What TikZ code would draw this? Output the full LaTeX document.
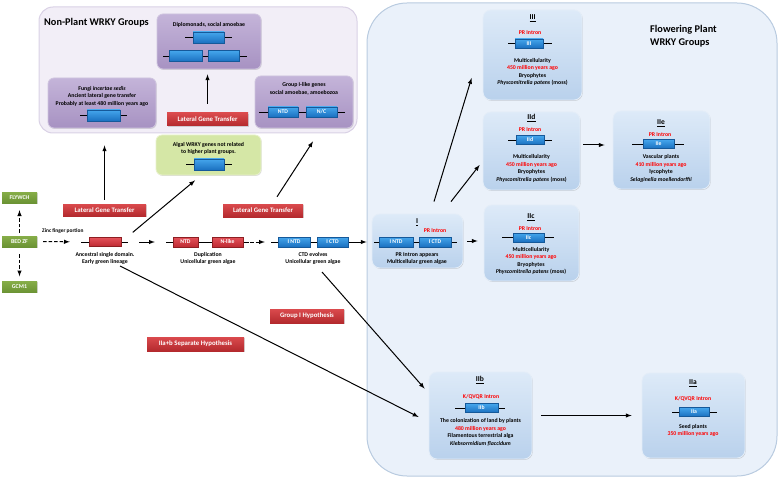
\documentclass[tikz,border=0pt]{standalone}
\usepackage{fontspec}
\setmainfont{Carlito}
\usetikzlibrary{shadows}
\definecolor{cNpOut}{HTML}{F2EEF7}
\definecolor{cNpEdge}{HTML}{D9D1E5}
\definecolor{cFlOut}{HTML}{EAF1FA}
\definecolor{cFlEdge}{HTML}{B9CBE0}
\definecolor{cPurT}{HTML}{C4B4D9}
\definecolor{cPurB}{HTML}{A792C2}
\definecolor{cPurE}{HTML}{CFC4DF}
\definecolor{cBluT}{HTML}{DDEAF8}
\definecolor{cBluB}{HTML}{B9D1EC}
\definecolor{cBluE}{HTML}{E3EDF8}
\definecolor{cAlg}{HTML}{D5E7A6}
\definecolor{cAlgE}{HTML}{E8F1CC}
\definecolor{cRedT}{HTML}{DA4A4D}
\definecolor{cRedB}{HTML}{B42A2E}
\definecolor{cGrnT}{HTML}{86AD48}
\definecolor{cGrnB}{HTML}{6B9334}
\definecolor{cBarT}{HTML}{45A6EC}
\definecolor{cBarB}{HTML}{1A70C0}
\definecolor{cBarE}{HTML}{15599A}
\definecolor{cRbarT}{HTML}{E4525A}
\definecolor{cRbarB}{HTML}{BE2A32}
\definecolor{cRbarE}{HTML}{8E1E22}
\newcommand\rd[1]{\textcolor{red}{#1}}
\tikzset{
  >=latex,
  shd/.style={drop shadow={opacity=.3,shadow xshift=.7pt,shadow yshift=-.9pt}},
  npouter/.style={rectangle,rounded corners=14pt,fill=cNpOut,draw=cNpEdge,line width=1pt,inner sep=0pt},
  flouter/.style={rectangle,rounded corners=40pt,fill=cFlOut,draw=cFlEdge,line width=1pt,inner sep=0pt},
  npbox/.style={rectangle,rounded corners=6pt,inner sep=0pt,top color=cPurT,bottom color=cPurB,draw=cPurE,line width=.8pt,shd},
  flbox/.style={rectangle,rounded corners=8pt,inner sep=0pt,top color=cBluT,bottom color=cBluB,draw=cBluE,line width=.8pt,shd},
  algbox/.style={rectangle,rounded corners=6pt,inner sep=0pt,fill=cAlg,draw=cAlgE,line width=.8pt,shd},
  tag/.style={rectangle,inner sep=0pt,top color=cRedT,bottom color=cRedB,text=white,font=\fontsize{6.8}{7}\selectfont\bfseries,shd},
  gtag/.style={rectangle,inner sep=0pt,top color=cGrnT,bottom color=cGrnB,text=white,minimum width=35,minimum height=11,font=\fontsize{5.9}{6}\selectfont\bfseries,shd},
  bbar/.style={rectangle,inner sep=0pt,minimum height=9,top color=cBarT,bottom color=cBarB,draw=cBarE,line width=.4pt,text=white,font=\fontsize{5.7}{6}\selectfont\bfseries},
  rbar/.style={bbar,top color=cRbarT,bottom color=cRbarB,draw=cRbarE},
  gline/.style={line width=.8pt},
  arr/.style={->,line width=1pt},
  darr/.style={->,line width=1pt,dash pattern=on 3.5pt off 2pt},
  hd/.style={inner sep=0pt,font=\fontsize{7.5}{8}\selectfont\bfseries},
  ttl/.style={inner sep=0pt,anchor=west,align=left,font=\fontsize{10.3}{13}\selectfont\bfseries},
  txt/.style={inner sep=0pt,align=center}
}
\begin{document}
\begin{tikzpicture}[x=1pt,y=-1pt,font=\fontsize{5.8}{7.5}\selectfont\bfseries]
\useasboundingbox (0,0) rectangle (779,484);

% non-plant groups
\node[npouter,minimum width=318,minimum height=126] (nonplant) at (198,70) {};
\node[ttl] (nptitle) at (44,23) {Non-Plant WRKY Groups};
\node[npbox,minimum width=104,minimum height=55] (diplo) at (209,41.5) {};
\node[txt] (diplotxt) at (209,25) {Diplomonads, social amoebae};
\draw[gline] (185,37.5) -- (232,37.5);
\node[bbar,minimum width=31,minimum height=11] (dbar) at (208.5,37.5) {};
\draw[gline] (163,56) -- (247,56);
\node[bbar,minimum width=33,minimum height=11] (dbarA) at (185.5,56) {};
\node[bbar,minimum width=31,minimum height=11] (dbarB) at (223.5,56) {};
\node[npbox,minimum width=108,minimum height=50] (fungi) at (102,103) {};
\node[txt] (fungitxt) at (102,96) {Fungi \textit{incertae sedis}\\Ancient lateral gene transfer\\Probably at least 480 million years ago};
\draw[gline] (80,115.5) -- (127,115.5);
\node[bbar,minimum width=33,minimum height=11] (fbar) at (103.5,115.5) {};
\node[npbox,minimum width=98,minimum height=52] (gIlike) at (304,102) {};
\node[txt] (gIliketxt) at (304,89) {Group I-like genes\\social amoebae, amoebozoa};
\draw[gline] (259,112) -- (345,112);
\node[bbar,minimum width=30,minimum height=10] (gntd) at (283,112) {NTD};
\node[bbar,minimum width=31,minimum height=10] (gnc) at (321.5,112) {N/C};
\node[algbox,minimum width=105,minimum height=40] (algal) at (208.5,155) {};
\node[txt] (algaltxt) at (208.5,148.5) {Algal WRKY genes not related\\to higher plant groups.};
\draw[gline] (186,164.5) -- (232,164.5);
\node[bbar,minimum width=30,minimum height=11] (abar) at (209,164.5) {};

% flowering plant groups
\node[flouter,minimum width=410,minimum height=473] (flower) at (572,239.5) {};
\node[ttl] (fltitle) at (650,36.5) {Flowering Plant\\WRKY Groups};

\node[flbox,minimum width=99,minimum height=90] (gIII) at (532.5,55) {};
\node[hd] (lIII) at (532.5,18) {\underline{III}};
\node[txt] (pIII) at (530,33) {\rd{PR Intron}};
\draw[gline] (508,43.5) -- (552,43.5);
\node[bbar,minimum width=28] (bIII) at (529,43.5) {III};
\node[txt] (tIII) at (532.5,72) {Multicellularity\\\rd{450 million years ago}\\Bryophytes\\\textit{Physcomitrella patens} (moss)};

\node[flbox,minimum width=97,minimum height=78] (gIId) at (531.5,151) {};
\node[hd] (lIId) at (531.5,118) {\underline{IId}};
\node[txt] (pIId) at (530,130) {\rd{PR Intron}};
\draw[gline] (508,140) -- (552,140);
\node[bbar,minimum width=28] (bIId) at (530,140) {IId};
\node[txt] (tIId) at (531.5,168.5) {Multicellularity\\\rd{450 million years ago}\\Bryophytes\\\textit{Physcomitrella patens} (moss)};

\node[flbox,minimum width=97,minimum height=78] (gIIe) at (661.5,150) {};
\node[hd] (lIIe) at (661,123) {\underline{IIe}};
\node[txt] (pIIe) at (660,135) {\rd{PR Intron}};
\draw[gline] (632,144) -- (684,144);
\node[bbar,minimum width=31] (bIIe) at (658.5,144) {IIe};
\node[txt] (tIIe) at (661,168.5) {Vascular plants\\\rd{410 million years ago}\\lycophyte\\\textit{Selaginella moellendorffii}};

\node[flbox,minimum width=95,minimum height=76] (gIIc) at (531.5,243) {};
\node[hd] (lIIc) at (531,217) {\underline{IIc}};
\node[txt] (pIIc) at (530,229) {\rd{PR Intron}};
\draw[gline] (502,237.5) -- (554,237.5);
\node[bbar,minimum width=31] (bIIc) at (528.5,237.5) {IIc};
\node[txt] (tIIc) at (531,261) {Multicellularity\\\rd{450 million years ago}\\Bryophytes\\\textit{Physcomitrella patens} (moss)};

\node[flbox,minimum width=91,minimum height=54] (gI) at (417.5,241) {};
\node[hd] (lI) at (417,222) {\underline{I}};
\node[txt] (pI) at (435,231) {\rd{PR Intron}};
\draw[gline] (374,242) -- (457,242);
\node[bbar,minimum width=34,minimum height=10] (bintd) at (396,242) {I NTD};
\node[bbar,minimum width=32,minimum height=10] (bictd) at (435,242) {I CTD};
\node[txt] (tI) at (417,258.5) {PR Intron appears\\Multicellular green algae};

\node[flbox,minimum width=103,minimum height=87] (gIIb) at (480.5,415.5) {};
\node[hd] (lIIb) at (480,380) {\underline{IIb}};
\node[txt] (pIIb) at (481,397) {\rd{K/QVQR Intron}};
\draw[gline] (455,408) -- (505,408);
\node[bbar,minimum width=33] (bIIb) at (481.5,408) {IIb};
\node[txt] (tIIb) at (480.5,432.5) {The colonization of land by plants\\\rd{480 million years ago}\\Filamentous terrestrial alga\\\textit{Klebsormidium flaccidum}};

\node[flbox,minimum width=103,minimum height=85] (gIIa) at (693.5,415.5) {};
\node[hd] (lIIa) at (693,383) {\underline{IIa}};
\node[txt] (pIIa) at (693,399) {\rd{K/QVQR Intron}};
\draw[gline] (672,412) -- (717,412);
\node[bbar,minimum width=30] (bIIa) at (694,412) {IIa};
\node[txt] (tIIa) at (693,430.5) {Seed plants\\\rd{350 million years ago}};

% early lineage
\node[gtag] (flywch) at (19.5,197.5) {FLYWCH};
\node[gtag] (bedzf) at (19.5,241.5) {BED ZF};
\node[gtag] (gcm) at (19.5,287) {GCM1};
\node[inner sep=0pt,anchor=west,font=\fontsize{5.4}{6}\selectfont\bfseries] (zinc) at (42,231) {Zinc finger portion};
\draw[gline] (81,242) -- (128,242);
\node[rbar,minimum width=32] (anc) at (105,242) {};
\node[txt] (anctxt) at (105,258.5) {Ancestral single domain.\\Early green lineage};
\draw[gline] (166,242) -- (249,242);
\node[rbar,minimum width=25,minimum height=10] (ntd) at (185.5,242) {NTD};
\node[rbar,minimum width=31,minimum height=10] (nlike) at (227.5,242) {N-like};
\node[txt] (duptxt) at (208,258.5) {Duplication\\Unicellular green algae};
\draw[gline] (271,242) -- (358,242);
\node[bbar,minimum width=32,minimum height=10] (intd) at (294,242) {I NTD};
\node[bbar,minimum width=31,minimum height=10] (ictd) at (332.5,242) {I CTD};
\node[txt] (ctdtxt) at (313,258.5) {CTD evolves\\Unicellular green algae};

% hypothesis labels
\node[tag,minimum width=83,minimum height=12] (ltgL) at (104.5,210) {Lateral Gene Transfer};
\node[tag,minimum width=81,minimum height=13] (ltgM) at (207.5,119.5) {Lateral Gene Transfer};
\node[tag,minimum width=80,minimum height=13] (ltgR) at (263,210.5) {Lateral Gene Transfer};
\node[tag,minimum width=74,minimum height=14] (grpI) at (307,316) {Group I Hypothesis};
\node[tag,minimum width=97,minimum height=14] (sephyp) at (195.5,344) {IIa+b Separate Hypothesis};

% arrows
\draw[darr,shorten <=3pt,shorten >=7pt] (bedzf.north) -- (flywch.south);
\draw[darr,shorten <=7pt,shorten >=5pt] (bedzf.south) -- (gcm.north);
\draw[darr,shorten <=6pt,shorten >=19pt] (bedzf.east) -- (anc.west);
\draw[arr,shorten <=18pt,shorten >=18pt] (anc.east) -- (ntd.west);
\draw[darr,shorten <=7pt,shorten >=13pt] (nlike.east) -- (intd.west);
\draw[darr,shorten <=10pt,shorten >=5pt] (ictd.east) -- (ictd.east -| gI.west);
\draw[arr,shorten <=4pt,shorten >=17pt] (ltgL.north) -- (ltgL.north |- fungi.south);
\draw[arr,shorten <=9pt,shorten >=5pt] (ltgM.north) -- (ltgM.north |- diplo.south);
\draw[arr,shorten <=15pt] (anc.east) -- ([xshift=-13.5pt,yshift=-5pt]algal.south);
\draw[arr] ([xshift=14pt,yshift=7pt]ltgR.north) -- ([xshift=9pt,yshift=-13pt]gIlike.south);
\draw[arr] ([xshift=15pt,yshift=-24pt]anc.center) -- ([xshift=-10pt,yshift=-1.5pt]gIIb.west);
\draw[arr] ([xshift=-10.5pt,yshift=-30pt]ictd.center) -- ([xshift=-4pt,yshift=-17pt]gIIb.north west);
\draw[arr] ([xshift=16.5pt,yshift=12pt]gI.north) -- ([xshift=-11pt,yshift=-23pt]gIII.west);
\draw[arr] ([xshift=33.5pt,yshift=12pt]gI.north) -- ([xshift=-3pt,yshift=-14pt]gIId.west);
\draw[arr,shorten <=4pt,shorten >=6pt] (gI.east) -- ([yshift=2pt]gIIc.west);
\draw[arr,shorten <=3pt,shorten >=8pt] ([yshift=6pt]gIId.east) -- ([yshift=5pt]gIIe.west);
\draw[arr,shorten <=9pt,shorten >=10pt] (gIIb.east) -- (gIIa.west);
\end{tikzpicture}
\end{document}
